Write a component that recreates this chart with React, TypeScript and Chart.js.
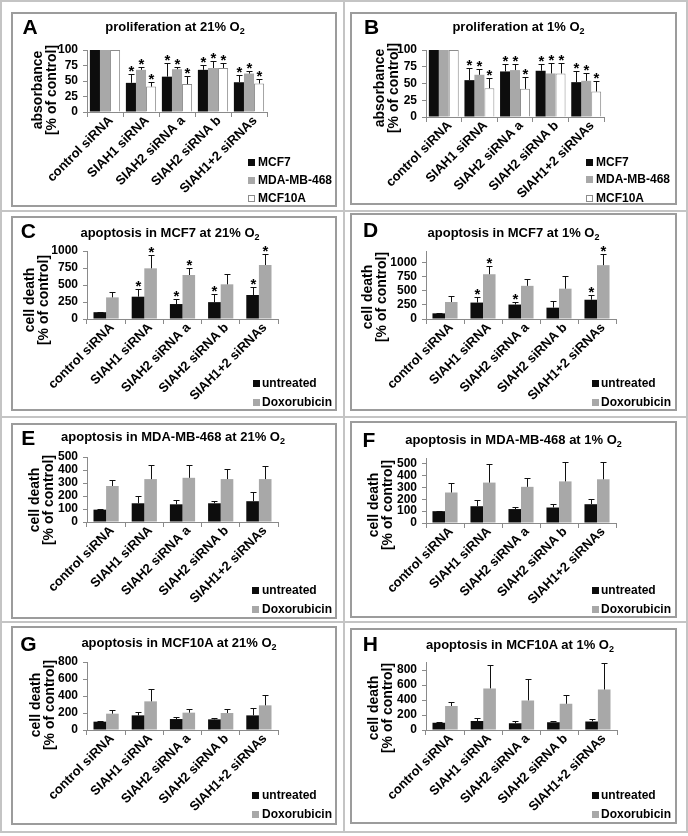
import React, { useEffect, useRef } from 'react';
import { Chart, registerables } from 'chart.js';

Chart.register(...registerables);

const FONT = '"Liberation Sans", Arial, Helvetica, sans-serif';
const AXIS = '#8a8a8a';
const BLACK = '#0d0d0d';
const GREY = '#a8a8a8';
const WHITE = '#ffffff';

// ---------- data ----------
const categories = ['control siRNA', 'SIAH1 siRNA', 'SIAH2 siRNA a', 'SIAH2 siRNA b', 'SIAH1+2 siRNAs'];
const proliferationSeries = ['MCF7', 'MDA-MB-468', 'MCF10A'];
const apoptosisSeries = ['untreated', 'Doxorubicin'];

// y tick labels
const ticksProlif = [0, 25, 50, 75, 100];
const ticksC = [0, 250, 500, 750, 1000];
const ticksD = [0, 250, 500, 750, 1000];
const ticksE = [0, 100, 200, 300, 400, 500];
const ticksF = [0, 100, 200, 300, 400, 500];
const ticksG = [0, 200, 400, 600, 800];
const ticksH = [0, 200, 400, 600, 800];

// A: proliferation at 21% O2
const aMCF7 = [100, 47, 57, 68, 48];
const aMCF7Err = [0, 15, 22, 8, 12];
const aMDA = [100, 68, 69, 71, 62];
const aMDAErr = [0, 4, 3, 12, 4];
const aMCF10A = [100, 41, 45, 71, 46];
const aMCF10AErr = [0, 8, 13, 8, 8];
const aStars = [0, 1, 1, 1, 1];

// B: proliferation at 1% O2
const bMCF7 = [100, 55, 68, 69, 52];
const bMCF7Err = [0, 18, 11, 10, 17];
const bMDA = [100, 63, 70, 65, 54];
const bMDAErr = [0, 8, 9, 15, 12];
const bMCF10A = [100, 43, 42, 65, 38];
const bMCF10AErr = [0, 15, 17, 16, 16];
const bStars = [0, 1, 1, 1, 1];

// C: apoptosis in MCF7 at 21% O2
const cUntreated = [100, 328, 220, 248, 353];
const cUntreatedErr = [8, 108, 69, 115, 113];
const cDoxo = [318, 745, 647, 510, 794];
const cDoxoErr = [74, 196, 98, 147, 157];
const cUntreatedStars = [0, 1, 1, 1, 1];
const cDoxoStars = [0, 1, 1, 0, 1];

// D: apoptosis in MCF7 at 1% O2
const dUntreated = [100, 290, 255, 200, 340];
const dUntreatedErr = [5, 90, 50, 125, 75];
const dDoxo = [300, 790, 585, 535, 950];
const dDoxoErr = [110, 140, 115, 225, 190];
const dUntreatedStars = [0, 1, 1, 0, 1];
const dDoxoStars = [0, 1, 0, 0, 1];

// E: apoptosis in MDA-MB-468 at 21% O2
const eUntreated = [95, 144, 136, 144, 160];
const eUntreatedErr = [3, 53, 36, 20, 68];
const eDoxo = [277, 330, 340, 330, 330];
const eDoxoErr = [43, 105, 98, 80, 97];

// F: apoptosis in MDA-MB-468 at 1% O2
const fUntreated = [100, 142, 118, 131, 159];
const fUntreatedErr = [2, 52, 20, 32, 43];
const fDoxo = [258, 342, 306, 352, 370];
const fDoxoErr = [80, 156, 72, 160, 150];

// G: apoptosis in MCF10A at 21% O2
const gUntreated = [98, 172, 129, 125, 172];
const gUntreatedErr = [5, 40, 28, 14, 91];
const gDoxo = [192, 337, 204, 200, 290];
const gDoxoErr = [39, 149, 47, 43, 118];

// H: apoptosis in MCF10A at 1% O2
const hUntreated = [98, 120, 89, 105, 115];
const hUntreatedErr = [3, 42, 31, 17, 33];
const hDoxo = [320, 555, 395, 350, 540];
const hDoxoErr = [47, 315, 290, 120, 355];

const noStars = [0, 0, 0, 0, 0];

// ---------- styling helpers ----------
type Series = { label: string; data: number[]; err: number[]; stars: number[]; fill: string; border: string; bw: number };

const prolif = (v: number[][], e: number[][], s: number[]): Series[] => [
  { label: proliferationSeries[0], data: v[0], err: e[0], stars: s, fill: BLACK, border: BLACK, bw: 0 },
  { label: proliferationSeries[1], data: v[1], err: e[1], stars: s, fill: GREY, border: GREY, bw: 0 },
  { label: proliferationSeries[2], data: v[2], err: e[2], stars: s, fill: WHITE, border: '#8c8c8c', bw: 1 },
];
const apop = (u: number[], ue: number[], us: number[], d: number[], de: number[], ds: number[]): Series[] => [
  { label: apoptosisSeries[0], data: u, err: ue, stars: us, fill: BLACK, border: BLACK, bw: 0 },
  { label: apoptosisSeries[1], data: d, err: de, stars: ds, fill: GREY, border: GREY, bw: 0 },
];

type Spec = {
  letter: string;
  title: string;
  box: { x: number; y: number; w: number; h: number };
  letterPos: [number, number];
  titlePos: [number, number];
  yTitle: string[];
  yTitlePos: [number, number];
  legend: { mx: number; tx: number; ys: number[] };
  area: { l: number; r: number; t: number; b: number };
  yMax: number;
  yTicks: number[];
  catPct: number;
  series: Series[];
};

const specs: Spec[] = [
  {
    letter: 'A', title: 'proliferation at 21% O', box: { x: 11, y: 12, w: 326, h: 195 },
    letterPos: [19, 13.5], titlePos: [164, 15], yTitle: ['absorbance', '[% of control]'], yTitlePos: [33, 78],
    legend: { mx: 237, tx: 247, ys: [150, 168, 186] }, area: { l: 76, r: 256, t: 38, b: 100 },
    yMax: 100, yTicks: ticksProlif, catPct: 0.84,
    series: prolif([aMCF7, aMDA, aMCF10A], [aMCF7Err, aMDAErr, aMCF10AErr], aStars),
  },
  {
    letter: 'B', title: 'proliferation at 1% O', box: { x: 350, y: 12, w: 327, h: 193 },
    letterPos: [21.5, 13.8], titlePos: [168.5, 15], yTitle: ['absorbance', '[% of control]'], yTitlePos: [36, 76],
    legend: { mx: 236, tx: 246, ys: [150, 167, 186] }, area: { l: 76, r: 254, t: 38, b: 105 },
    yMax: 100, yTicks: ticksProlif, catPct: 0.84,
    series: prolif([bMCF7, bMDA, bMCF10A], [bMCF7Err, bMDAErr, bMCF10AErr], bStars),
  },
  {
    letter: 'C', title: 'apoptosis in MCF7 at 21% O', box: { x: 11, y: 216, w: 326, h: 195 },
    letterPos: [17.3, 13.7], titlePos: [159, 17], yTitle: ['cell death', '[% of control]'], yTitlePos: [24.5, 84],
    legend: { mx: 242, tx: 251, ys: [167, 186] }, area: { l: 76, r: 267, t: 35, b: 103 },
    yMax: 1000, yTicks: ticksC, catPct: 0.66,
    series: apop(cUntreated, cUntreatedErr, cUntreatedStars, cDoxo, cDoxoErr, cDoxoStars),
  },
  {
    letter: 'D', title: 'apoptosis in MCF7 at 1% O', box: { x: 350, y: 213, w: 327, h: 198 },
    letterPos: [20.7, 16.2], titlePos: [163.5, 20], yTitle: ['cell death', '[% of control]'], yTitlePos: [24, 84],
    legend: { mx: 242, tx: 251, ys: [170, 189] }, area: { l: 76, r: 266, t: 38, b: 106 },
    yMax: 1200, yTicks: ticksD, catPct: 0.66,
    series: apop(dUntreated, dUntreatedErr, dUntreatedStars, dDoxo, dDoxoErr, dDoxoStars),
  },
  {
    letter: 'E', title: 'apoptosis in MDA-MB-468 at 21% O', box: { x: 11, y: 423, w: 326, h: 196 },
    letterPos: [17.3, 14.3], titlePos: [162, 14], yTitle: ['cell death', '[% of control]'], yTitlePos: [30, 77],
    legend: { mx: 241, tx: 251, ys: [167, 186] }, area: { l: 76, r: 267, t: 34, b: 99 },
    yMax: 500, yTicks: ticksE, catPct: 0.66,
    series: apop(eUntreated, eUntreatedErr, noStars, eDoxo, eDoxoErr, noStars),
  },
  {
    letter: 'F', title: 'apoptosis in MDA-MB-468 at 1% O', box: { x: 350, y: 421, w: 327, h: 197 },
    letterPos: [19, 18], titlePos: [163.5, 19], yTitle: ['cell death', '[% of control]'], yTitlePos: [30, 84],
    legend: { mx: 242, tx: 251, ys: [169, 188] }, area: { l: 76, r: 266, t: 37, b: 102 },
    yMax: 550, yTicks: ticksF, catPct: 0.66,
    series: apop(fUntreated, fUntreatedErr, noStars, fDoxo, fDoxoErr, noStars),
  },
  {
    letter: 'G', title: 'apoptosis in MCF10A at 21% O', box: { x: 11, y: 626, w: 326, h: 199 },
    letterPos: [17.3, 17], titlePos: [168, 17], yTitle: ['cell death', '[% of control]'], yTitlePos: [31, 79],
    legend: { mx: 241, tx: 251, ys: [169, 188] }, area: { l: 76, r: 267, t: 36, b: 104 },
    yMax: 800, yTicks: ticksG, catPct: 0.66,
    series: apop(gUntreated, gUntreatedErr, noStars, gDoxo, gDoxoErr, noStars),
  },
  {
    letter: 'H', title: 'apoptosis in MCF10A at 1% O', box: { x: 350, y: 628, w: 327, h: 196 },
    letterPos: [20.3, 15], titlePos: [170, 17], yTitle: ['cell death', '[% of control]'], yTitlePos: [30, 80],
    legend: { mx: 242, tx: 251, ys: [167, 186] }, area: { l: 76, r: 267, t: 34.5, b: 102 },
    yMax: 900, yTicks: ticksH, catPct: 0.66,
    series: apop(hUntreated, hUntreatedErr, noStars, hDoxo, hDoxoErr, noStars),
  },
];

function errPlugin(p: Spec) {
  return {
    id: 'errbars_' + p.letter,
    afterDatasetsDraw(chart: any) {
      const ctx = chart.ctx;
      const ys = chart.scales.y;
      p.series.forEach((s, i) => {
        const meta = chart.getDatasetMeta(i);
        meta.data.forEach((bar: any, j: number) => {
          const v = s.data[j];
          const e = s.err[j];
          const x = Math.round(bar.x) + 0.5;
          const yv = ys.getPixelForValue(v);
          const yt = Math.round(ys.getPixelForValue(v + e)) + 0.5;
          ctx.save();
          ctx.strokeStyle = '#111';
          ctx.lineWidth = 1;
          if (e > 0) {
            ctx.beginPath();
            ctx.moveTo(x, yv);
            ctx.lineTo(x, yt);
            ctx.moveTo(x - 3, yt);
            ctx.lineTo(x + 3, yt);
            ctx.stroke();
          }
          if (s.stars[j]) {
            ctx.fillStyle = '#000';
            ctx.font = `bold 15px ${FONT}`;
            ctx.textAlign = 'center';
            ctx.textBaseline = 'alphabetic';
            ctx.fillText('*', x, yt + 1);
          }
          ctx.restore();
        });
      });
    },
  };
}

function buildConfig(p: Spec): any {
  const W = p.box.w;
  const H = p.box.h;
  return {
    type: 'bar',
    data: {
      labels: categories,
      datasets: p.series.map((s) => ({
        label: s.label,
        data: s.data,
        backgroundColor: s.fill,
        borderColor: s.border,
        borderWidth: s.bw,
        categoryPercentage: p.catPct,
        barPercentage: 1,
      })),
    },
    options: {
      responsive: false,
      maintainAspectRatio: false,
      animation: false,
      devicePixelRatio: 1,
      layout: { padding: { left: 0, top: p.area.t, right: W - p.area.r, bottom: 0 } },
      plugins: { legend: { display: false }, tooltip: { enabled: false }, title: { display: false } },
      scales: {
        x: {
          offset: true,
          grid: { offset: true, drawOnChartArea: false, drawTicks: true, tickLength: 5, color: AXIS, lineWidth: 1 },
          border: { display: true, color: AXIS, width: 1 },
          ticks: {
            autoSkip: false, minRotation: 45, maxRotation: 45, padding: -4, labelOffset: 6, color: '#000',
            font: { family: FONT, size: 13, weight: 'bold' },
          },
          afterFit: (s: any) => { s.height = H - p.area.b; },
        },
        y: {
          min: 0,
          max: p.yMax,
          grid: { drawOnChartArea: false, drawTicks: true, tickLength: 4, color: AXIS, lineWidth: 1 },
          border: { display: true, color: AXIS, width: 1 },
          ticks: {
            autoSkip: false, padding: 5, color: '#000',
            font: { family: FONT, size: 12, weight: 'bold' },
            callback: (v: any) => String(v),
          },
          afterBuildTicks: (s: any) => { s.ticks = p.yTicks.map((v) => ({ value: v })); },
          afterFit: (s: any) => { s.width = p.area.l; },
        },
      },
    },
    plugins: [errPlugin(p)],
  };
}

function Panel({ p }: { p: Spec }) {
  const ref = useRef<HTMLCanvasElement>(null);
  useEffect(() => {
    const chart = new Chart(ref.current as HTMLCanvasElement, buildConfig(p));
    return () => chart.destroy();
  }, [p]);
  const { box } = p;
  const abs = { position: 'absolute' as const };
  return (
    <div style={{ ...abs, left: box.x, top: box.y, width: box.w, height: box.h }}>
      <canvas ref={ref} width={box.w} height={box.h} style={{ ...abs, left: 0, top: 0, width: box.w, height: box.h }} />
      <div style={{ ...abs, left: 0, top: 0, width: box.w, height: box.h, boxSizing: 'border-box', border: '2px solid #9c9c9c', pointerEvents: 'none' }} />
      <div style={{ ...abs, left: p.letterPos[0], top: p.letterPos[1], transform: 'translate(-50%,-50%)', font: `bold 21px ${FONT}`, lineHeight: '21px', color: '#000' }}>
        {p.letter}
      </div>
      <div style={{ ...abs, left: p.titlePos[0], top: p.titlePos[1], transform: 'translate(-50%,-50%)', font: `bold 13px ${FONT}`, lineHeight: '13px', whiteSpace: 'nowrap', color: '#000' }}>
        {p.title}
        <span style={{ fontSize: 9, position: 'relative', top: 3 }}>2</span>
      </div>
      <div style={{ ...abs, left: p.yTitlePos[0], top: p.yTitlePos[1], transform: 'translate(-50%,-50%) rotate(-90deg)', font: `bold 14px ${FONT}`, lineHeight: '14px', whiteSpace: 'nowrap', textAlign: 'center', color: '#000' }}>
        {p.yTitle[0]}
        <br />
        {p.yTitle[1]}
      </div>
      {p.series.map((s, i) => (
        <React.Fragment key={s.label}>
          <div style={{ ...abs, left: p.legend.mx, top: p.legend.ys[i] - 3.5, width: 7, height: 7, boxSizing: 'border-box', background: s.fill, border: s.bw ? `1px solid ${s.border}` : 'none' }} />
          <div style={{ ...abs, left: p.legend.tx, top: p.legend.ys[i], transform: 'translateY(-50%)', font: `bold 12px ${FONT}`, lineHeight: '12px', whiteSpace: 'nowrap', color: '#000' }}>
            {s.label}
          </div>
        </React.Fragment>
      ))}
    </div>
  );
}

export default function App() {
  const line = '#c4c4c4';
  const abs = { position: 'absolute' as const, background: line };
  return (
    <div style={{ position: 'absolute', left: 0, top: 0, width: 688, height: 836, background: '#fff', overflow: 'hidden' }}>
      <div style={{ ...abs, left: 0, top: 0, width: 2, height: 833 }} />
      <div style={{ ...abs, left: 343, top: 0, width: 2, height: 833 }} />
      <div style={{ ...abs, left: 686, top: 0, width: 2, height: 833 }} />
      <div style={{ ...abs, left: 0, top: 0, width: 688, height: 2 }} />
      <div style={{ ...abs, left: 0, top: 210, width: 688, height: 2 }} />
      <div style={{ ...abs, left: 0, top: 416, width: 688, height: 2 }} />
      <div style={{ ...abs, left: 0, top: 621, width: 688, height: 2 }} />
      <div style={{ ...abs, left: 0, top: 831, width: 688, height: 2 }} />
      {specs.map((p) => (
        <Panel key={p.letter} p={p} />
      ))}
    </div>
  );
}
